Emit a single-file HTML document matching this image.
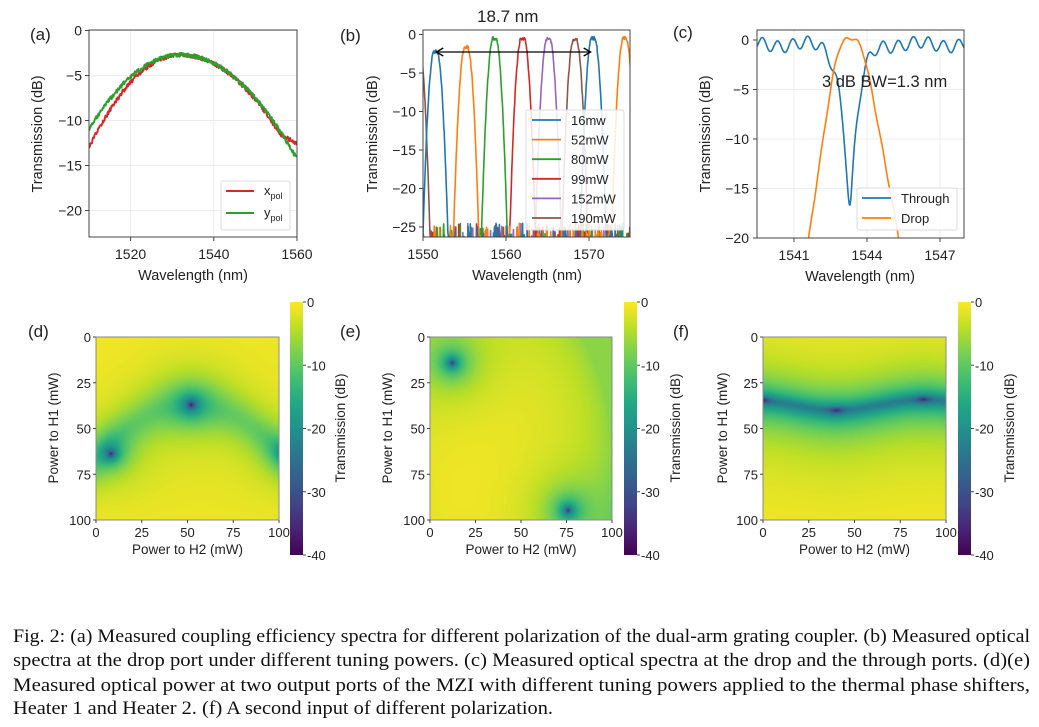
<!DOCTYPE html>
<html><head><meta charset="utf-8">
<style>
html,body{margin:0;padding:0;background:#fff;width:1039px;height:727px;overflow:hidden;position:relative}
svg{position:absolute;left:0;top:0}
canvas{position:absolute}
text{font-family:"Liberation Sans",sans-serif;fill:#222}
.cap{font-family:"Liberation Serif",serif;font-size:19px;fill:#111}
</style></head><body>
<canvas id="hd" width="183" height="183" style="left:96px;top:337px"></canvas>
<canvas id="he" width="182" height="183" style="left:430px;top:337px"></canvas>
<canvas id="hf" width="183" height="183" style="left:763px;top:337px"></canvas>
<svg id="s" width="1039" height="727" xmlns="http://www.w3.org/2000/svg">
<defs>
<clipPath id="ca"><rect x="89" y="30" width="208" height="207"/></clipPath>
<clipPath id="cb"><rect x="423" y="30" width="207" height="207"/></clipPath>
<clipPath id="cc"><rect x="757" y="30" width="207" height="208"/></clipPath>
<linearGradient id="vir" x1="0" y1="1" x2="0" y2="0">
<stop offset="0" stop-color="#440154"/><stop offset="0.1" stop-color="#482475"/><stop offset="0.2" stop-color="#414487"/><stop offset="0.3" stop-color="#355f8d"/><stop offset="0.4" stop-color="#2a788e"/><stop offset="0.5" stop-color="#21918c"/><stop offset="0.6" stop-color="#22a884"/><stop offset="0.7" stop-color="#44bf70"/><stop offset="0.8" stop-color="#7ad151"/><stop offset="0.9" stop-color="#bddf26"/><stop offset="1" stop-color="#fde725"/>
</linearGradient>
</defs>
<g id="g"></g>
<text class="cap" x="13" y="642" textLength="1017" lengthAdjust="spacingAndGlyphs">Fig. 2: (a) Measured coupling efficiency spectra for different polarization of the dual-arm grating coupler. (b) Measured optical</text>
<text class="cap" x="13" y="666" textLength="1017" lengthAdjust="spacingAndGlyphs">spectra at the drop port under different tuning powers. (c) Measured optical spectra at the drop and the through ports. (d)(e)</text>
<text class="cap" x="13" y="691" textLength="1017" lengthAdjust="spacingAndGlyphs">Measured optical power at two output ports of the MZI with different tuning powers applied to the thermal phase shifters,</text>
<text class="cap" x="13" y="714" textLength="540" lengthAdjust="spacingAndGlyphs">Heater 1 and Heater 2. (f) A second input of different polarization.</text>
</svg>
<script>
(function(){
var G=document.getElementById('g'),h='';
function T(x,y,s,o){o=o||{};h+='<text x="'+x+'" y="'+y+'" font-size="'+(o.fs||14)+'"'+(o.a?' text-anchor="'+o.a+'"':'')+(o.tr?' transform="'+o.tr+'"':'')+'>'+s+'</text>';}
function L(x1,y1,x2,y2,c,w){h+='<line x1="'+x1+'" y1="'+y1+'" x2="'+x2+'" y2="'+y2+'" stroke="'+c+'" stroke-width="'+(w||1)+'"/>';}
function P(d,c,clip,w){h+='<path d="'+d+'" fill="none" stroke="'+c+'" stroke-width="'+(w||1.6)+'" stroke-linejoin="round" clip-path="url(#'+clip+')"/>';}
var seed=12345;function rnd(){seed|=0;seed=seed+0x6D2B79F5|0;var t=Math.imul(seed^seed>>>15,1|seed);t=t+Math.imul(t^t>>>7,61|t)^t;return((t^t>>>14)>>>0)/4294967296;}
function path(xs,f,X,Y){var d='';for(var i=0;i<xs.length;i++){d+=(i?'L':'M')+X(xs[i]).toFixed(1)+' '+Y(f(xs[i],i)).toFixed(1);}return d;}
function rng(a,b,s){var r=[];for(var x=a;x<=b+1e-9;x+=s)r.push(x);return r;}
// ---------- (a)
var Xa=function(w){return 89+(w-1510)*208/50},Ya=function(v){return 30.5-v*9};
[1520,1540,1560].forEach(function(w){L(Xa(w),30,Xa(w),237,'#ececec');});
[0,-5,-10,-15,-20].forEach(function(v){L(89,Ya(v),297,Ya(v),'#ececec');});
var xa=rng(1510,1560,0.12);
P(path(xa,function(x){var d=x-1532;var v=d<0?-2.7-0.0213*d*d:(d<24?-2.7-0.0154*d*d:-11.57-(d-24)*0.25);return v+(rnd()-0.5)*0.45;},Xa,Ya),'#d62728','ca',1.9);
P(path(xa,function(x){var d=x-1532;var v=d<0?-2.7-0.0171*d*d:-2.7-0.0148*d*d;return v+(rnd()-0.5)*0.45;},Xa,Ya),'#2ca02c','ca',1.9);
h+='<rect x="89" y="30" width="208" height="207" fill="none" stroke="#444" stroke-width="1"/>';
[1520,1540,1560].forEach(function(w){L(Xa(w),237,Xa(w),241,'#444');T(Xa(w),259,w,{a:'middle'});});
[0,-5,-10,-15,-20].forEach(function(v){L(85,Ya(v),89,Ya(v),'#444');T(82,Ya(v)+5,v<0?'\u2212'+(-v):'0',{a:'end'});});
T(193,280,'Wavelength (nm)',{a:'middle',fs:14.5});
T(0,0,'Transmission (dB)',{a:'middle',fs:14.5,tr:'translate(42,134) rotate(-90)'});
T(30,40,'(a)',{fs:17});
h+='<rect x="221" y="181" width="69" height="49" rx="2" fill="#fff" fill-opacity="0.85" stroke="#ddd"/>';
L(226,191,254,191,'#d62728',1.9);L(226,213,254,213,'#2ca02c',1.9);
h+='<text x="264" y="195" font-size="13">x<tspan font-size="9" dy="4">pol</tspan></text>';
h+='<text x="264" y="217" font-size="13">y<tspan font-size="9" dy="4">pol</tspan></text>';
// ---------- (b)
var Xb=function(w){return 423+(w-1550)*8.3},Yb=function(v){return 34.5-v*7.7};
var cols=['#1f77b4','#ff7f0e','#2ca02c','#d62728','#9467bd','#8c564b'];
var peaks=[[[1551.5,-2.2],[1570.5,-0.5]],[[1555.2,-1.6],[1574.3,-0.5]],[[1558.6,-0.5],[1577.6,-0.5]],[[1562.0,-0.5]],[[1565.1,-0.5]],[[1568.3,-0.6],[1549.3,-0.6]]];
var xb=rng(1549.5,1575.5,0.05);
var order=[5,4,3,2,1,0];
order.forEach(function(k){
 P(path(xb,function(x){var m=-60,dmin=99;peaks[k].forEach(function(p){var dd=Math.abs(x-p[0]);if(dd<dmin)dmin=dd;var d=Math.max(0,dd-0.15);var v=p[1]-13*d*d+(rnd()-0.5)*0.5;if(v>m)m=v;});
  var n=-28-rnd()*3;if(rnd()<0.12)n=-27+rnd()*2.5;if(dmin<2.2&&rnd()<0.5)n=-26-rnd()*2+ (2.2-dmin)*3*rnd();return Math.max(m,n);},Xb,Yb),cols[k],'cb',1.6);
});
h+='<rect x="423" y="30" width="207" height="207" fill="none" stroke="#444"/>';
[1550,1560,1570].forEach(function(w){L(Xb(w),237,Xb(w),241,'#444');T(Xb(w),259,w,{a:'middle'});});
[0,-5,-10,-15,-20,-25].forEach(function(v){L(419,Yb(v),423,Yb(v),'#444');T(416,Yb(v)+5,v<0?'\u2212'+(-v):'0',{a:'end'});});
T(527,280,'Wavelength (nm)',{a:'middle',fs:14.5});
T(0,0,'Transmission (dB)',{a:'middle',fs:14.5,tr:'translate(377,134) rotate(-90)'});
T(340,41,'(b)',{fs:17});
T(477,22,'18.7 nm',{fs:17});
L(Xb(1551.6),52,Xb(1570.2),52,'#000',1.3);
h+='<path d="M'+(Xb(1551.6)+7)+' 48 L'+Xb(1551.6)+' 52 L'+(Xb(1551.6)+7)+' 56 M'+(Xb(1570.2)-7)+' 48 L'+Xb(1570.2)+' 52 L'+(Xb(1570.2)-7)+' 56" fill="none" stroke="#000" stroke-width="1.3"/>';
h+='<rect x="526" y="110" width="98" height="120" rx="2" fill="#fff" fill-opacity="0.85" stroke="#ddd"/>';
['16mw','52mW','80mW','99mW','152mW','190mW'].forEach(function(s,i){var y=120+i*19.6;L(532,y,561,y,cols[i],1.8);T(571,y+5,s,{fs:13});});
// ---------- (c)
var Xc=function(w){return 794+(w-1541)*24.33},Yc=function(v){return 40-v*9.9};
[1541,1544,1547].forEach(function(w){L(Xc(w),30,Xc(w),238,'#ececec');});
[0,-5,-10,-15,-20].forEach(function(v){L(757,Yc(v),964,Yc(v),'#ececec');});
var xc=rng(1539.4,1548.1,0.015);
function sp(z,k){return Math.log(1+Math.exp(k*z))/k;}
P(path(xc,function(x){var r=0.6*Math.sin(2*Math.PI*(x-1539.55)/0.62)-0.45+0.25*Math.sin(2*Math.PI*x/2.3);var lin=1-0.977*Math.exp(-Math.pow((x-1543.3)/0.73,2));return r+10*Math.log10(lin);},Xc,Yc),'#1f77b4','cc',1.6);
P(path(xc,function(x){return 0.3+0.15*Math.sin(2*Math.PI*x/0.5)-17*sp(1542.8-x,7)-13.5*sp(x-1543.8,7);},Xc,Yc),'#ff7f0e','cc',1.6);
h+='<rect x="757" y="30" width="207" height="208" fill="none" stroke="#444"/>';
[1541,1544,1547].forEach(function(w){L(Xc(w),238,Xc(w),242,'#444');T(Xc(w),260,w,{a:'middle'});});
[0,-5,-10,-15,-20].forEach(function(v){L(753,Yc(v),757,Yc(v),'#444');T(749,Yc(v)+5,v<0?'\u2212'+(-v):'0',{a:'end'});});
T(860,281,'Wavelength (nm)',{a:'middle',fs:14.5});
T(0,0,'Transmission (dB)',{a:'middle',fs:14.5,tr:'translate(710,134) rotate(-90)'});
T(673,38,'(c)',{fs:17});
T(822,87,'3 dB BW=1.3 nm',{fs:16.5});
h+='<rect x="857" y="188" width="100" height="42" rx="2" fill="#fff" fill-opacity="0.85" stroke="#ddd"/>';
L(862,198,891,198,'#1f77b4',1.8);T(901,203,'Through',{fs:13});
L(862,218,891,218,'#ff7f0e',1.8);T(901,223,'Drop',{fs:13});
// ---------- heatmaps axes
function hm(x0,w,lab,lx,ylx,cbx,tlx){
 h+='<rect x="'+x0+'" y="337" width="'+w+'" height="183" fill="none" stroke="#888"/>';
 [0,25,50,75,100].forEach(function(t){var y=337+t*1.83;L(x0-3,y,x0,y,'#444');T(x0-5,y+5,t,{a:'end',fs:13});
  var x=x0+t*w/100;L(x,520,x,523,'#444');T(x,537,t,{a:'middle',fs:13});});
 T(x0+w/2,554,'Power to H2 (mW)',{a:'middle',fs:13.5});
 T(0,0,'Power to H1 (mW)',{a:'middle',fs:13.5,tr:'translate('+ylx+',428) rotate(-90)'});
 T(lx,337,lab,{fs:17});
 h+='<rect x="'+cbx+'" y="302" width="13" height="253" fill="url(#vir)"/>';
 [0,-10,-20,-30,-40].forEach(function(v,i){var y=302+i*63.25;L(cbx+13,y,cbx+16,y,'#444');T(cbx+17,y+5,v,{fs:13});});
 T(0,0,'Transmission (dB)',{a:'middle',fs:13.5,tr:'translate('+tlx+',428) rotate(-90)'});
}
hm(96,183,'(d)',28,58,290,345);
hm(430,182,'(e)',340,392,624,680);
hm(763,183,'(f)',673,727,958,1014);
G.innerHTML=h;
// ---------- heatmap images
var st=[[68,1,84],[72,36,117],[65,68,135],[53,95,141],[42,120,142],[33,145,140],[34,168,132],[68,191,112],[122,209,81],[189,223,38],[253,231,37]];
function vir(t){t=Math.max(0,Math.min(1,t))*10;var i=Math.min(9,Math.floor(t)),f=t-i,a=st[i],b=st[i+1];return[a[0]+(b[0]-a[0])*f,a[1]+(b[1]-a[1])*f,a[2]+(b[2]-a[2])*f];}
function draw(id,fn){var c=document.getElementById(id),ctx=c.getContext('2d'),W=c.width,H=c.height,im=ctx.createImageData(W,H);
 for(var j=0;j<H;j++)for(var i=0;i<W;i++){var x=i/(W-1)*100,y=j/(H-1)*100;var p=fn(x,y);var db=Math.max(-40,10*Math.log10(Math.max(p,1e-5)));var c3=vir((db+40)/40);var k=(j*W+i)*4;im.data[k]=c3[0];im.data[k+1]=c3[1];im.data[k+2]=c3[2];im.data[k+3]=255;}
 ctx.putImageData(im,0,0);}
function mn(x,y,cx,cy,w){var d2=(x-cx)*(x-cx)+(y-cy)*(y-cy);return (d2+0.3)/(d2+w*w);}
draw('hd',function(x,y){var yc=37+27*Math.pow((x-52)/50,2);var b=Math.exp(-Math.pow(y-yc,2)/(2*13*13));var p=(1-0.8*b)*(0.97-0.05*(x/100));
 p*=mn(x,y,52,37,16)*mn(x,y,8,64,16)*mn(x,y,104,63,14);return p;});
draw('he',function(x,y){var r2=Math.pow((x-30)/70,2)+Math.pow((y-70)/105,2);var p=Math.max(0.22,1-0.75*r2);p*=mn(x,y,12,14,20)*mn(x,y,76,95,20);return p;});
draw('hf',function(x,y){var yc=37+3*Math.cos(2*Math.PI*(x-40)/96);var dy=y-yc;var w=dy<0?27:33;
 var sp=Math.max(Math.exp(-Math.pow(x/5,2)),Math.exp(-Math.pow((x-40)/6,2)),Math.exp(-Math.pow((x-88)/6,2)));
 var eps=0.005*(1-0.95*sp);return dy*dy/(dy*dy+w*w)+eps;});
})();
</script>
</body></html>
